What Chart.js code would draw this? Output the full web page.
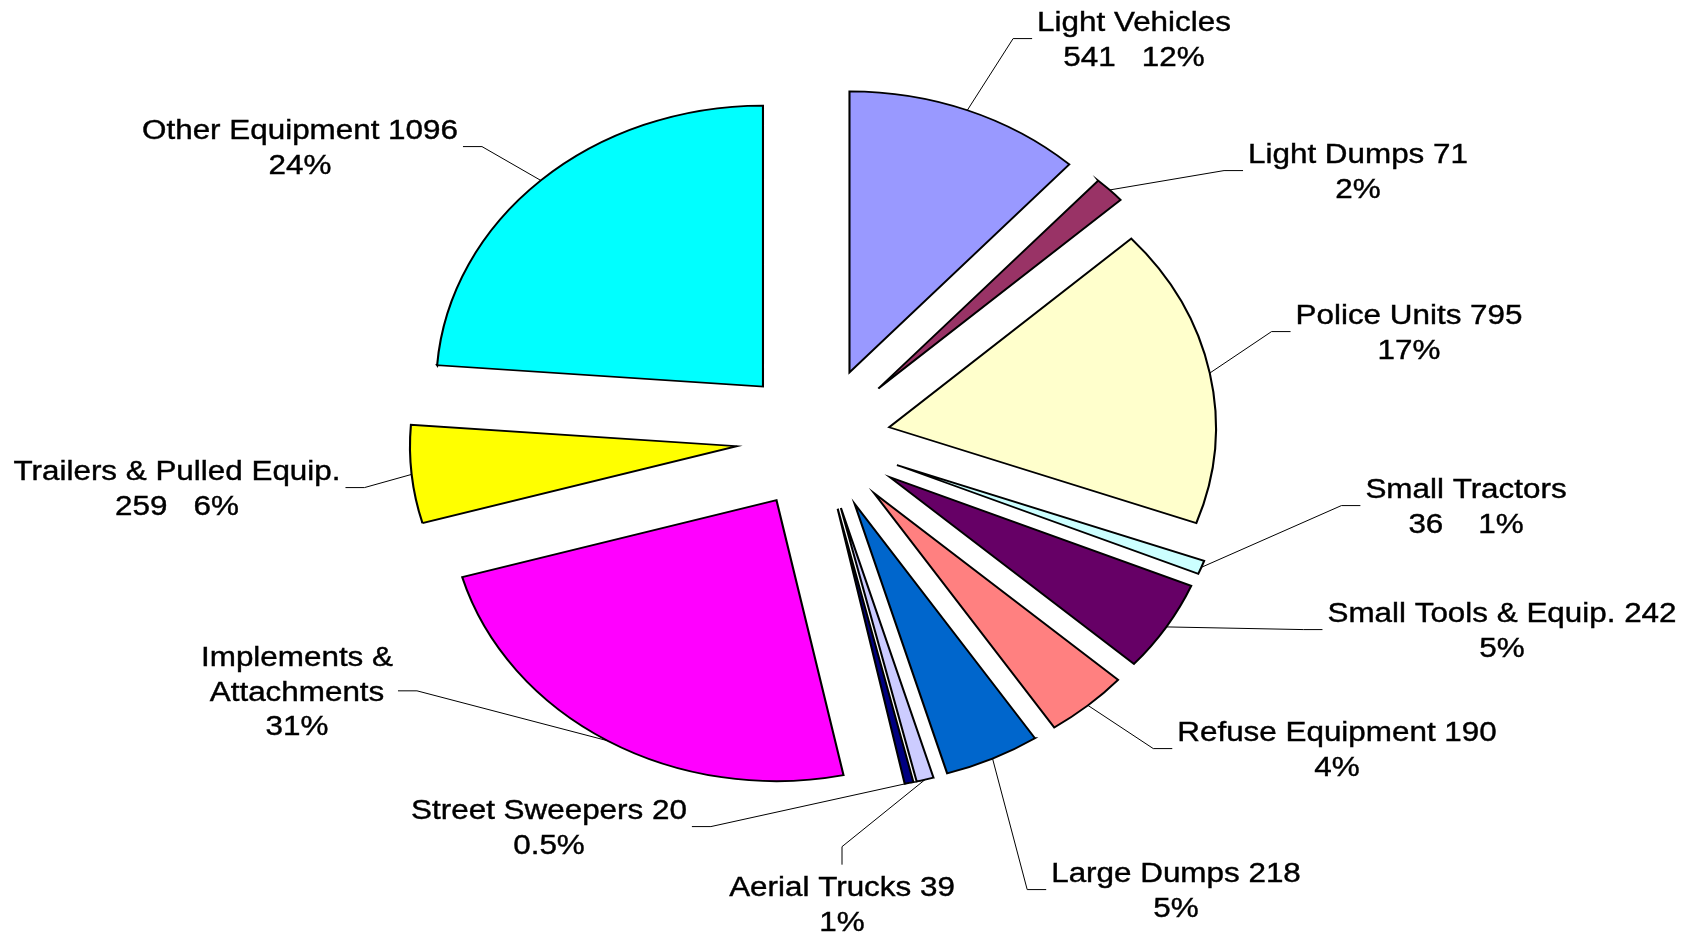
<!DOCTYPE html>
<html>
<head>
<meta charset="utf-8">
<title>Equipment by class</title>
<script src="https://cdn.jsdelivr.net/npm/chart.js@4.4.1/dist/chart.umd.min.js"></script>
<style>
  html, body { margin: 0; padding: 0; background: #fff; }
  #wrap { width: 1696px; height: 932px; }
</style>
</head>
<body>
<div id="wrap"><canvas id="pie" width="1696" height="932"></canvas></div>
<script>
const categories = [
  "Light Vehicles", "Light Dumps", "Police Units", "Small Tractors",
  "Small Tools & Equip.", "Refuse Equipment", "Large Dumps", "Aerial Trucks",
  "Street Sweepers", "Implements & Attachments", "Trailers & Pulled Equip.", "Other Equipment",
];
// no count is printed for implements, 1100 is read off the slice angle
const units = [541, 71, 795, 36, 242, 190, 218, 39, 20, 1100, 259, 1096];
const percents = ["12%", "2%", "17%", "1%", "5%", "4%", "5%", "1%", "0.5%", "31%", "6%", "24%"];

const colors = [
  "#9999FF", "#993366", "#FFFFCC", "#CCFFFF", "#660066", "#FF8080",
  "#0066CC", "#CCCCFF", "#000080", "#FF00FF", "#FFFF00", "#00FFFF",
];

// how each label is worded: {n} name, {v} count, {p} share
const labelFormats = [
  "{n}\n{v}   {p}",
  "{n} {v}\n{p}",
  "{n} {v}\n{p}",
  "{n}\n{v}    {p}",
  "{n} {v}\n{p}",
  "{n} {v}\n{p}",
  "{n} {v}\n{p}",
  "{n} {v}\n{p}",
  "{n} {v}\n{p}",
  "Implements &\nAttachments\n{p}",
  "{n}\n{v}   {p}",
  "{n} {v}\n{p}",
];

// label placement: centre x, first baseline, side the leader leaves from
const labelSpots = [
  [1134, 31, "l"], [1358, 163, "l"], [1409, 324, "l"], [1466, 498, "l"],
  [1502, 622, "l"], [1337, 741, "l"], [1176, 882, "l"], [842, 896, "t"],
  [549, 819, "r"], [297, 666, "r"], [177, 480, "r"], [300, 139, "r"],
];

// explosion distance of each slice (px, before the horizontal stretch)
const explode = [71.5, 71.5, 61, 71.5, 71.5, 71.5, 71.5, 71.5, 71.5, 71.5, 71.5, 71.5];
const stretchX = 1.163;
const fontSize = 27;
const lineHeight = 34.5;
const capHeight = fontSize * 0.716;

function labelLines(i) {
  return labelFormats[i]
    .replace("{n}", categories[i])
    .replace("{v}", String(units[i]))
    .replace("{p}", percents[i])
    .split("\n");
}

const stretchedPie = {
  id: "stretchedPie",
  beforeDatasetDraw(chart, args) {
    const ctx = chart.ctx;
    args.meta.data.forEach((arc, i) => {
      const mid = (arc.startAngle + arc.endAngle) / 2;
      ctx.save();
      ctx.translate(arc.x, 0);
      ctx.scale(stretchX, 1);
      ctx.translate(-arc.x, 0);
      ctx.translate(Math.cos(mid) * explode[i], Math.sin(mid) * explode[i]);
      arc.draw(ctx);
      ctx.restore();
    });
    return false;
  },
  afterDatasetsDraw(chart) {
    const ctx = chart.ctx;
    const arcs = chart.getDatasetMeta(0).data;
    ctx.save();
    ctx.font = `${fontSize}px "Liberation Sans", Arial, sans-serif`;
    ctx.textAlign = "center";
    ctx.textBaseline = "alphabetic";
    ctx.fillStyle = "#000";
    ctx.strokeStyle = "#000";

    arcs.forEach((arc, i) => {
      const lines = labelLines(i);
      const [x, y, side] = labelSpots[i];
      const width = Math.max(...lines.map((l) => ctx.measureText(l).width)) * stretchX;

      const mid = (arc.startAngle + arc.endAngle) / 2;
      const reach = arc.outerRadius + explode[i];
      const ex = arc.x + Math.cos(mid) * reach * stretchX;
      const ey = arc.y + Math.sin(mid) * reach;

      let sx, sy, kx, ky;
      if (side === "t") {
        sx = x;
        sy = y - capHeight - 12;
        kx = x;
        ky = sy - 18;
      } else {
        const dir = side === "l" ? -1 : 1;
        sy = y - capHeight / 2 + ((lines.length - 1) * lineHeight) / 2;
        sx = x + dir * (width / 2 + 5);
        kx = sx + dir * 19;
        ky = sy;
      }
      ctx.lineWidth = 1;
      ctx.beginPath();
      ctx.moveTo(sx, sy);
      ctx.lineTo(kx, ky);
      ctx.lineTo(ex, ey);
      ctx.stroke();

      ctx.lineWidth = 0.4;
      lines.forEach((line, k) => {
        ctx.save();
        ctx.translate(x, y + k * lineHeight);
        ctx.scale(stretchX, 1);
        ctx.fillText(line, 0, 0);
        ctx.strokeText(line, 0, 0);
        ctx.restore();
      });
    });
    ctx.restore();
  },
};

new Chart(document.getElementById("pie"), {
  type: "pie",
  data: {
    labels: categories,
    datasets: [
      {
        data: units,
        backgroundColor: colors,
        borderColor: "#000",
        borderWidth: 1.8,
        borderJoinStyle: "miter",
      },
    ],
  },
  options: {
    responsive: false,
    animation: false,
    radius: 281,
    events: [],
    layout: { padding: { left: 0, right: 57, top: 0, bottom: 54 } },
    plugins: {
      legend: { display: false },
      tooltip: { enabled: false },
    },
  },
  plugins: [stretchedPie],
});
</script>
</body>
</html>
